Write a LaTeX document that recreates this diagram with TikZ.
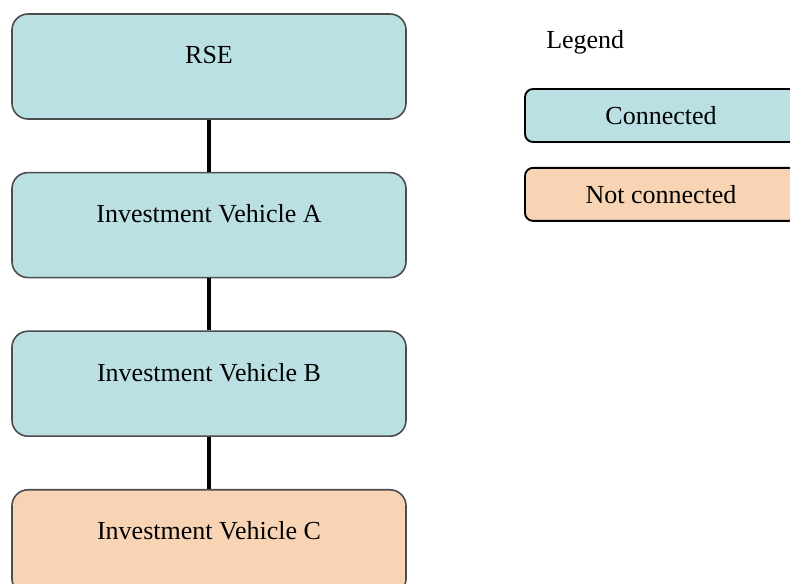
\documentclass[tikz,border=0pt]{standalone}
\usepackage{fontspec}
\setmainfont{Liberation Serif}
\usetikzlibrary{positioning}
\definecolor{cb}{HTML}{BAE0E4}
\definecolor{co}{HTML}{F9D4B4}

\begin{document}
\begin{tikzpicture}[
  x=0.75pt,y=-0.75pt,node distance=39pt,
  box/.style={rectangle,rounded corners=12pt,draw=black!70,fill=cb,line width=1.2pt,minimum width=295.5pt,minimum height=78.75pt,inner sep=0pt},
  boxtext/.style={anchor=base,inner sep=0pt,font=\fontsize{19.5}{22}\selectfont},
  key/.style={rectangle,rounded corners=6pt,draw=black,fill=cb,line width=1.4pt,minimum width=204pt,minimum height=39.75pt,inner sep=0pt,font=\fontsize{19.5}{22}\selectfont},
  link/.style={line width=3pt,black}
]
  \useasboundingbox (0,0) rectangle (790,584);
  \clip (0,0) rectangle (790,584);

  % Chain of vehicles -- uniform boxes
  \node[box] (rse) at (209,66.5) {};
  \node[box,below=of rse]  (vehA) {};
  \node[box,below=of vehA] (vehB) {};
  \node[box,fill=co,below=of vehB] (vehC) {};

  % Box labels sit in the upper half
  \node[boxtext] (rsetxt)  at ([yshift=-38pt]rse.north)  {RSE};
  \node[boxtext] (vehAtxt) at ([yshift=-38pt]vehA.north) {Investment Vehicle A};
  \node[boxtext] (vehBtxt) at ([yshift=-38pt]vehB.north) {Investment Vehicle B};
  \node[boxtext] (vehCtxt) at ([yshift=-38pt]vehC.north) {Investment Vehicle C};

  % Links
  \draw[link] (rse)  -- (vehA);
  \draw[link] (vehA) -- (vehB);
  \draw[link] (vehB) -- (vehC);

  % Legend
  \node[boxtext,anchor=base west] (legend) at (546,49) {Legend};
  \node[key] (keyon) at (661,115.5) {Connected};
  \node[key,fill=co,below=18pt of keyon] (keyoff) {Not connected};
\end{tikzpicture}
\end{document}
